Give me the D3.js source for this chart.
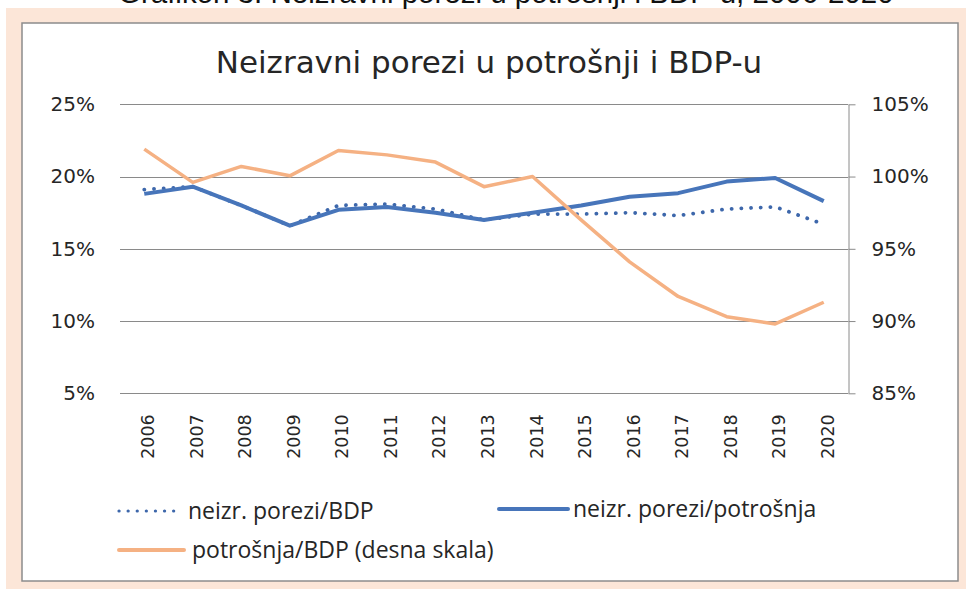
<!DOCTYPE html>
<html>
<head>
<meta charset="utf-8">
<script src="https://cdn.jsdelivr.net/npm/d3@7"></script>
<style>
  body { margin: 0; background: #fff; }
  svg { display: block; }
</style>
</head>
<body>
<div id="chart"></div>
<script>
// data
const years = ['2006', '2007', '2008', '2009', '2010', '2011', '2012', '2013', '2014', '2015', '2016', '2017', '2018', '2019', '2020']
const porezBdp = [19.1, 19.3, 18.0, 16.6, 18.0, 18.1, 17.75, 17.0, 17.4, 17.4, 17.5, 17.3, 17.75, 17.9, 16.7]
const porezPotrosnja = [18.8, 19.3, 18.0, 16.6, 17.7, 17.9, 17.5, 17.0, 17.5, 18.0, 18.6, 18.85, 19.65, 19.9, 18.3]
const potrosnjaBdp = [101.9, 99.6, 100.7, 100.05, 101.8, 101.5, 101.0, 99.3, 100.0, 97.0, 94.1, 91.7, 90.3, 89.8, 91.3]
const leftTicks = [5, 10, 15, 20, 25]
const rightTicks = [85, 90, 95, 100, 105]

const width = 966
const height = 589
const plot = { left: 120, right: 848, top: 104.3, bottom: 393.3 }

const blue = '#4775ba'
const orange = '#f5b183'
const grid = '#8a8a8a'

const svg = d3.select('#chart')
  .append('svg')
  .attr('width', width)
  .attr('height', height)

// peach frame + white panel
svg.append('rect').attr('x', 6).attr('y', 8).attr('width', width - 6).attr('height', height - 8).attr('fill', '#fce6d8')
svg.append('rect')
  .attr('x', 22).attr('y', 23).attr('width', 936).attr('height', 558)
  .attr('fill', '#fff').attr('stroke', '#8c8c8c').attr('stroke-width', 1.5)

// caption of the figure, only its lower part shows at the top edge
svg.append('text')
  .attr('x', 118).attr('y', 3)
  .attr('font-family', 'Liberation Sans, Arial, sans-serif')
  .attr('font-size', '29.5px')
  .attr('fill', '#111')
  .text('Grafikon 3: Neizravni porezi u potrošnji i BDP-u, 2006-2020')

svg.append('text')
  .attr('x', 489).attr('y', 73)
  .attr('text-anchor', 'middle')
  .attr('font-family', 'DejaVu Sans, sans-serif')
  .attr('font-size', '31px')
  .attr('fill', '#262626')
  .text('Neizravni porezi u potrošnji i BDP-u')

const x = d3.scaleBand()
  .domain(years)
  .range([plot.left, plot.right])

const yLeft = d3.scaleLinear()
  .domain([5, 25])
  .range([plot.bottom, plot.top])

const yRight = d3.scaleLinear()
  .domain([85, 105])
  .range([plot.bottom, plot.top])

// gridlines
svg.append('g')
  .selectAll('line')
  .data(leftTicks)
  .enter()
  .append('line')
  .attr('x1', plot.left)
  .attr('x2', plot.right)
  .attr('y1', d => Math.round(yLeft(d)) + 0.5)
  .attr('y2', d => Math.round(yLeft(d)) + 0.5)
  .attr('stroke', grid)
  .attr('stroke-width', 1)

// left axis labels
const leftAxis = svg.append('g')
  .attr('transform', 'translate(' + plot.left + ',0)')
  .call(d3.axisLeft(yLeft).tickValues(leftTicks).tickSize(0).tickPadding(25).tickFormat(d => d + '%'))
leftAxis.select('.domain').remove()
leftAxis.selectAll('text')
  .attr('font-family', 'DejaVu Sans, sans-serif')
  .attr('font-size', '20px')
  .attr('fill', '#262626')

// right axis with line + outward ticks
const rightAxis = svg.append('g')
  .attr('transform', 'translate(' + (plot.right + 0.5) + ',0)')
  .call(d3.axisRight(yRight).tickValues(rightTicks).tickSizeOuter(0).tickSizeInner(7).tickPadding(16).tickFormat(d => d + '%'))
rightAxis.select('.domain').attr('stroke', grid)
rightAxis.selectAll('.tick line').attr('stroke', grid)
rightAxis.selectAll('text')
  .attr('font-family', 'DejaVu Sans, sans-serif')
  .attr('font-size', '20px')
  .attr('fill', '#262626')

// x axis year labels, rotated
const xAxis = svg.append('g')
  .attr('transform', 'translate(0,' + plot.bottom + ')')
  .call(d3.axisBottom(x).tickSize(0))
xAxis.select('.domain').remove()
xAxis.selectAll('text')
  .attr('font-family', 'DejaVu Sans, sans-serif')
  .attr('font-size', '17.5px')
  .attr('fill', '#262626')
  .attr('text-anchor', 'end')
  .attr('transform', 'translate(10,21) rotate(-90)')
  .attr('dy', 0)
  .attr('y', 0)
  .attr('x', 0)

const cx = d => x(d) + x.bandwidth() / 2

const lineLeft = d3.line()
  .x((d, i) => cx(years[i]))
  .y(d => yLeft(d))

const lineRight = d3.line()
  .x((d, i) => cx(years[i]))
  .y(d => yRight(d))

svg.append('path')
  .datum(porezBdp)
  .attr('d', lineLeft)
  .attr('fill', 'none')
  .attr('stroke', '#3d67ab')
  .attr('stroke-width', 3.8)
  .attr('stroke-linecap', 'round')
  .attr('stroke-dasharray', '0.1 9.6')

svg.append('path')
  .datum(porezPotrosnja)
  .attr('d', lineLeft)
  .attr('fill', 'none')
  .attr('stroke', blue)
  .attr('stroke-width', 4)
  .attr('stroke-linejoin', 'round')

svg.append('path')
  .datum(potrosnjaBdp)
  .attr('d', lineRight)
  .attr('fill', 'none')
  .attr('stroke', orange)
  .attr('stroke-width', 3.5)
  .attr('stroke-linejoin', 'round')

// legend
const legendFont = 'Open Sans, sans-serif'
const legend = [
  { label: 'neizr. porezi/BDP', x1: 119, x2: 182, y: 511, tx: 188, color: '#3d67ab', dash: '0.1 9', w: 3.2 },
  { label: 'neizr. porezi/potrošnja', x1: 499, x2: 568, y: 509, tx: 573, color: blue, dash: null, w: 4 },
  { label: 'potrošnja/BDP (desna skala)', x1: 119, x2: 184, y: 550, tx: 192, color: orange, dash: null, w: 4 }
]

const lg = svg.append('g')
  .selectAll('g')
  .data(legend)
  .enter()
  .append('g')

lg.append('line')
  .attr('x1', d => d.x1).attr('x2', d => d.x2)
  .attr('y1', d => d.y).attr('y2', d => d.y)
  .attr('stroke', d => d.color)
  .attr('stroke-width', d => d.w)
  .attr('stroke-linecap', 'round')
  .attr('stroke-dasharray', d => d.dash)

lg.append('text')
  .attr('x', d => d.tx)
  .attr('y', d => d.y)
  .attr('dy', '0.35em')
  .attr('font-family', legendFont)
  .attr('font-size', '23px')
  .attr('fill', '#262626')
  .text(d => d.label)
</script>
</body>
</html>
